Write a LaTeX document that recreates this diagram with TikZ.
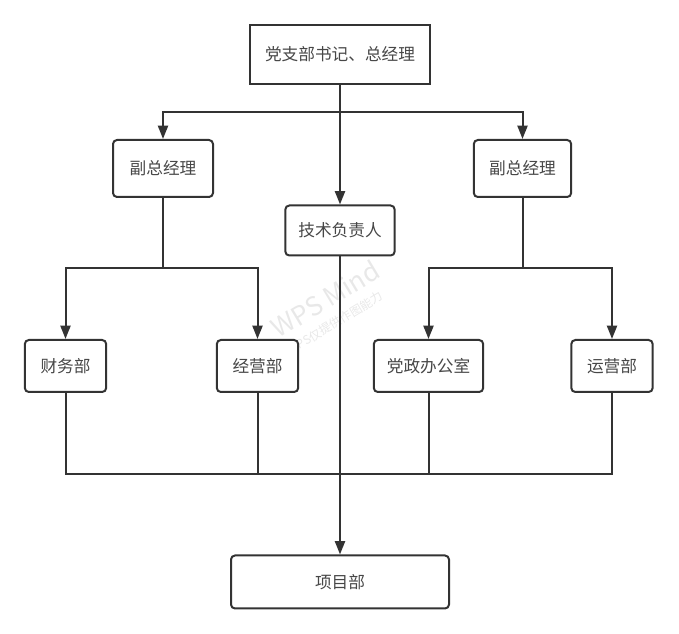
\documentclass[tikz,border=0pt]{standalone}
\usepackage{fontspec}
\setmainfont{Noto Sans CJK SC}
\usetikzlibrary{arrows.meta}
\definecolor{ink}{HTML}{333333}
\definecolor{wm}{HTML}{E8E8E8}
\tikzset{
  px/.style={x=0.75pt,y=-0.75pt},
  box/.style={draw=ink,line width=1.5pt,fill=white,rounded corners=3pt,inner sep=0pt,font=\fontsize{12.5}{14}\selectfont,text=ink!90},
  topbox/.style={box,rounded corners=0pt},
  link/.style={draw=ink,line width=1.5pt},
  arr/.style={link,-{Triangle[length=10pt,width=7.5pt]}},
  mark1/.style={text=wm,rotate=31,inner sep=0pt},
}
\begin{document}
\begin{tikzpicture}[px]
\useasboundingbox (0,0) rectangle (679,634);
% watermark
\node[mark1,font=\fontsize{19.5}{20}\selectfont] (wm1) at (325,299) {WPS Mind};
\node[mark1,font=\fontsize{9}{10}\selectfont] (wm2) at (335,323) {WPS仅提供作图能力};
% nodes
\node[topbox,minimum width=135pt,minimum height=44.25pt] (top) at (340,54.5) {党支部书记、总经理};
\node[box,minimum width=75pt,minimum height=42.75pt] (vl) at (163,168.5) {副总经理};
\node[box,minimum width=73pt,minimum height=42.75pt] (vr) at (522.5,168.5) {副总经理};
\node[box,minimum width=82pt,minimum height=37.5pt] (tech) at (340,230.5) {技术负责人};
\node[box,minimum width=61pt,minimum height=39pt] (cw) at (65.5,366) {财务部};
\node[box,minimum width=61pt,minimum height=39pt] (jy) at (257.5,366) {经营部};
\node[box,minimum width=82pt,minimum height=39pt] (dz) at (428.5,366) {党政办公室};
\node[box,minimum width=61pt,minimum height=39pt] (yy) at (612,366) {运营部};
\node[box,minimum width=163.5pt,minimum height=39.75pt] (xm) at (340,582) {项目部};
% coordinates
\coordinate (t1) at (340,112);
\coordinate (b1) at (163,268);
\coordinate (b2) at (522.5,268);
\coordinate (m1) at (340,474);
% connectors
\draw[link] (top.south) -- (t1);
\draw[arr] (t1) -| (vl.north);
\draw[arr] (t1) -| (vr.north);
\draw[arr] (t1) -- (tech.north);
\draw[link] (vl.south) -- (b1);
\draw[arr] (b1) -| (cw.north);
\draw[arr] (b1) -| (jy.north);
\draw[link] (vr.south) -- (b2);
\draw[arr] (b2) -| (dz.north);
\draw[arr] (b2) -| (yy.north);
\draw[link] (cw.south) |- (m1);
\draw[link] (jy.south) |- (m1);
\draw[link] (dz.south) |- (m1);
\draw[link] (yy.south) |- (m1);
\draw[arr] (tech.south) -- (xm.north);
\end{tikzpicture}
\end{document}
